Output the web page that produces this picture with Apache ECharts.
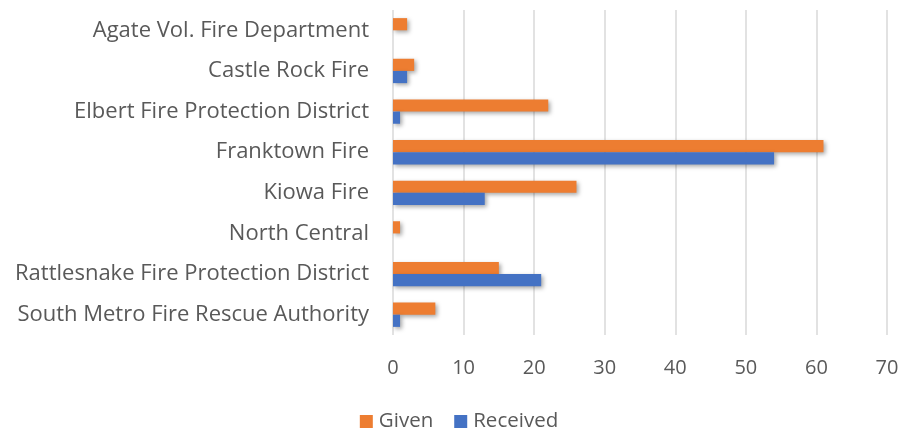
<!DOCTYPE html>
<html><head><meta charset="utf-8">
<script src="https://cdn.jsdelivr.net/npm/echarts@6/dist/echarts.min.js"></script>
<style>html,body{margin:0;padding:0;background:#fff}#c{width:918px;height:435px}</style>
</head><body><div id="c"></div>
<script>
const categories = ["Agate Vol. Fire Department","Castle Rock Fire","Elbert Fire Protection District","Franktown Fire","Kiowa Fire","North Central","Rattlesnake Fire Protection District","South Metro Fire Rescue Authority"];
const given = [2, 3, 22, 61, 26, 1, 15, 6];
const received = [0, 2, 1, 54, 13, 0, 21, 1];
const xTicks = [0, 10, 70];

const font = "'Open Sans', sans-serif";
const shadow = {shadowColor:'rgba(0,0,0,0.35)', shadowBlur:4, shadowOffsetX:2, shadowOffsetY:2};
const chart = echarts.init(document.getElementById('c'));
chart.setOption({
  animation:false,
  textStyle:{fontFamily:font},
  grid:{left:393, right:31, top:10, bottom:100, containLabel:false},
  legend:{top:406, left:'center', itemWidth:13, itemHeight:13, itemGap:21, icon:'rect',
    textStyle:{fontSize:20.5, color:'#595959', fontFamily:font, padding:[0,0,0,1]},
    data:['Given','Received']},
  xAxis:{type:'value', min:xTicks[0], max:xTicks[2], interval:xTicks[1],
    axisLine:{show:false}, axisTick:{show:false},
    splitLine:{lineStyle:{color:'#d9d9d9', width:1.5}},
    axisLabel:{fontSize:20, color:'#595959', margin:23}},
  yAxis:{type:'category', data:categories, inverse:true,
    axisLine:{show:false}, axisTick:{show:false},
    axisLabel:{fontSize:22, color:'#595959', margin:24}},
  series:[
    {name:'Given', type:'bar', data:given, barGap:'0%', barCategoryGap:'40%',
      itemStyle:Object.assign({color:'#ED7D31'}, shadow)},
    {name:'Received', type:'bar', data:received, barGap:'0%', barCategoryGap:'40%',
      itemStyle:Object.assign({color:'#4472C4'}, shadow)}
  ]
});
</script></body></html>
